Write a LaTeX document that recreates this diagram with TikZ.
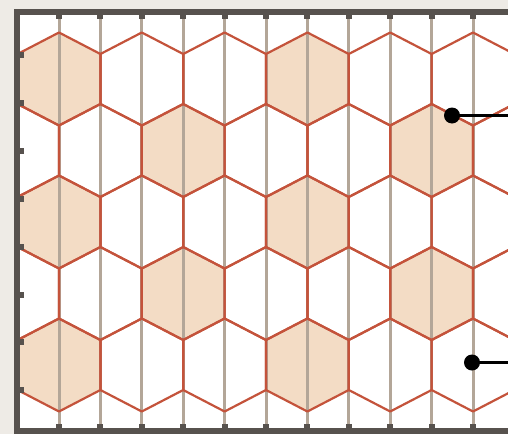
\documentclass[tikz,border=0pt]{standalone}
\definecolor{paper}{HTML}{EEEBE6}
\definecolor{framegrey}{HTML}{57524E}
\definecolor{rodgrey}{HTML}{B3A698}
\definecolor{hexred}{HTML}{C4533B}
\definecolor{hexfill}{HTML}{F3DCC5}
\begin{document}
\begin{tikzpicture}[x=1pt, y=-1pt, line join=round,
    hexcell/.style={draw=hexred, line width=2.2pt},
    hexshade/.style={fill=hexfill},
    rod/.style={draw=rodgrey, line width=3pt},
    frametick/.style={fill=framegrey},
    dotmark/.style={circle, fill=black, inner sep=0pt, minimum size=16pt},
    leader/.style={draw=black, line width=2.2pt}]

    \useasboundingbox (0,0) rectangle (508,434);

    % Sfondo e interno del telaio
    \fill[paper] (0,0) rectangle (508,434);
    \fill[white] (17,12) rectangle (560,431);

    \begin{scope}
        \clip (17,12) rectangle (560,431);

        % Celle colorate
        \foreach \cx/\cy in {59/79, 307/79, 183.2/150.5, 431.6/150.5, 59/222, 307/222,
                             183.2/293.5, 431.6/293.5, 59/365, 307/365}
            \fill[hexshade, shift={(\cx,\cy)}] (0,-46.5) -- (41.4,-25) -- (41.4,25)
                -- (0,46.5) -- (-41.4,25) -- (-41.4,-25) -- cycle;

        % Barre verticali
        \foreach \k in {0,...,11}
            \draw[rod] (59+41.4*\k,12) -- (59+41.4*\k,431);

        % Reticolo esagonale
        \foreach \r in {0,...,4}{
            \pgfmathsetmacro{\cy}{79+71.5*\r}
            \pgfmathsetmacro{\off}{mod(\r,2)*41.4}
            \foreach \k in {0,...,6}{
                \pgfmathsetmacro{\cx}{59+82.8*\k-\off}
                \draw[hexcell, shift={(\cx,\cy)}] (0,-46.5) -- (41.4,-25) -- (41.4,25)
                    -- (0,46.5) -- (-41.4,25) -- (-41.4,-25) -- cycle;
            }
        }
    \end{scope}

    % Telaio
    \draw[framegrey, line width=6pt, line join=miter] (17,12) rectangle (560,431);
    \foreach \k in {0,...,11}{
        \fill[frametick] (56+41.4*\k,12) rectangle (62+41.4*\k,19);
        \fill[frametick] (56+41.4*\k,424) rectangle (62+41.4*\k,431);
    }
    \foreach \k in {0,...,7}
        \fill[frametick] (17,52+47.9*\k) rectangle (24,58+47.9*\k);

    % Richiami
    \node[dotmark] (tagedge) at (452,115.5) {};
    \coordinate (tagedgeend) at (515,115.5);
    \draw[leader] (tagedge) -- (tagedgeend);

    \node[dotmark] (tagcell) at (472,362.5) {};
    \coordinate (tagcellend) at (515,362.5);
    \draw[leader] (tagcell) -- (tagcellend);

\end{tikzpicture}
\end{document}
